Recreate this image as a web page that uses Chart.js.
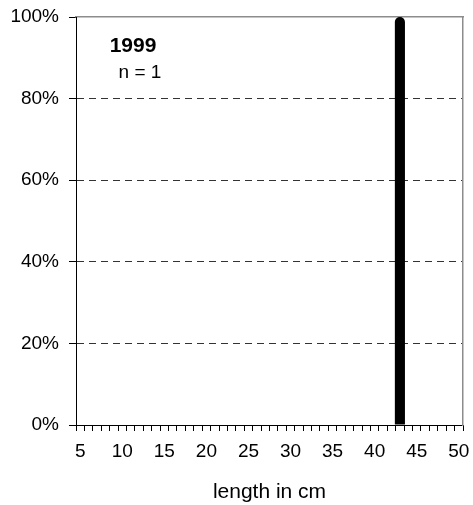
<!DOCTYPE html>
<html>
<head>
<meta charset="utf-8">
<style>
  html, body { margin: 0; padding: 0; background: #ffffff; }
  #wrap { width: 473px; height: 505px; }
</style>
<script src="https://cdn.jsdelivr.net/npm/chart.js@4.4.1/dist/chart.umd.min.js"></script>
</head>
<body>
<div id="wrap"><canvas id="c" width="473" height="505"></canvas></div>
<script>
// ---- data ----
const categories = [5, 6, 7, 8, 9, 10, 11, 12, 13, 14, 15, 16, 17, 18, 19, 20, 21, 22, 23, 24, 25, 26, 27, 28, 29, 30, 31, 32, 33, 34, 35, 36, 37, 38, 39, 40, 41, 42, 43, 44, 45, 46, 47, 48, 49, 50];
const shares = [0, 0, 0, 0, 0, 0, 0, 0, 0, 0, 0, 0, 0, 0, 0, 0, 0, 0, 0, 0, 0, 0, 0, 0, 0, 0, 0, 0, 0, 0, 0, 0, 0, 0, 0, 0, 0, 0, 100, 0, 0, 0, 0, 0, 0, 0];
const xTickLabels = [5, 10, 15, 20, 25, 30, 35, 40, 45, 50];
const yTickValues = [0, 20, 40, 60, 80, 100];
const yearLabel = '1999';
const countLabel = 'n = 1';
const xTitle = 'length in cm';

const FONT = "'Liberation Sans', Arial, sans-serif";

const annotationPlugin = {
  id: 'annot',
  afterDraw(chart) {
    const ctx = chart.ctx;
    const a = chart.chartArea;
    ctx.save();
    ctx.fillStyle = '#000';
    ctx.textAlign = 'center';
    ctx.textBaseline = 'alphabetic';
    ctx.font = "bold 21px " + FONT;
    ctx.fillText(yearLabel, a.left + 57, a.top + 35);
    ctx.font = "19px " + FONT;
    ctx.fillText(countLabel, a.left + 64, a.top + 61);
    ctx.restore();
  }
};

function noPad(s) {
  s.paddingLeft = 0; s.paddingRight = 0; s.paddingTop = 0; s.paddingBottom = 0;
}

new Chart(document.getElementById('c'), {
  type: 'bar',
  data: {
    labels: categories.map(String),
    datasets: [{
      data: shares,
      backgroundColor: '#000000',
      borderWidth: 0,
      barPercentage: 1.2,
      categoryPercentage: 1.0,
      borderRadius: { topLeft: 5, topRight: 5, bottomLeft: 0, bottomRight: 0 },
      borderSkipped: 'bottom',
      xAxisID: 'x',
      yAxisID: 'y'
    }]
  },
  plugins: [annotationPlugin],
  options: {
    responsive: false,
    animation: false,
    layout: { padding: { top: 17, right: 10, left: 0, bottom: 0 } },
    plugins: {
      legend: { display: false },
      tooltip: { enabled: false },
      title: { display: false }
    },
    scales: {
      x: {
        type: 'category',
        position: 'bottom',
        offset: true,
        grid: {
          display: true,
          offset: true,
          drawOnChartArea: false,
          drawTicks: true,
          tickLength: 6,
          tickColor: '#000',
          color: '#000'
        },
        border: { display: true, color: '#000', width: 1 },
        ticks: {
          autoSkip: false,
          maxRotation: 0,
          minRotation: 0,
          padding: 9,
          color: '#000',
          font: { family: FONT, size: 19 },
          callback: function (v) {
            const lab = Number(this.getLabelForValue(v));
            return xTickLabels.includes(lab) ? String(lab) : '';
          }
        },
        title: {
          display: true,
          text: xTitle,
          color: '#000',
          font: { family: FONT, size: 21 },
          padding: { top: 6, bottom: 0 }
        },
        afterFit(s) { s.height = 80; noPad(s); }
      },
      x2: {
        type: 'category',
        position: 'top',
        offset: true,
        grid: { display: false },
        border: { display: true, color: '#8c8c8c', width: 1.5 },
        ticks: { display: false },
        afterFit(s) { s.height = 0; noPad(s); }
      },
      y: {
        min: 0,
        max: 100,
        position: 'left',
        afterBuildTicks(s) { s.ticks = yTickValues.map(v => ({ value: v })); },
        grid: {
          drawTicks: true,
          tickLength: 7,
          tickColor: '#000',
          tickBorderDash: [],
          color: (c) => (c.tick && (c.tick.value === 0 || c.tick.value === 100)) ? 'rgba(0,0,0,0)' : '#333',
          lineWidth: 1
        },
        border: { display: true, color: '#000', width: 1, dash: [7, 5] },
        ticks: {
          padding: 10,
          color: '#000',
          font: { family: FONT, size: 19 },
          callback: (v) => v + '%'
        },
        afterFit(s) { s.width = 76; noPad(s); }
      },
      y2: {
        min: 0,
        max: 100,
        position: 'right',
        grid: { display: false },
        border: { display: true, color: '#8c8c8c', width: 1.5 },
        ticks: { display: false },
        afterFit(s) { s.width = 0; noPad(s); }
      }
    }
  }
});
</script>
</body>
</html>
